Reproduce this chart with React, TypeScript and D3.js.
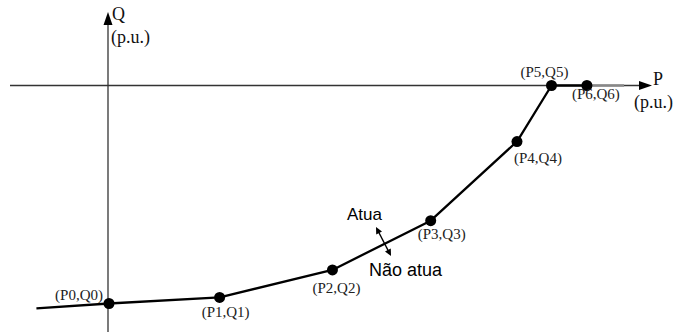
import React from "react";
import * as d3 from "d3";

// Operating points of the P–Q characteristic (per unit)
const pointNames = ["(P0,Q0)", "(P1,Q1)", "(P2,Q2)", "(P3,Q3)", "(P4,Q4)", "(P5,Q5)", "(P6,Q6)"];
const pValues = [0, 0.25, 0.505, 0.727, 0.922, 1.0, 1.08];
const qValues = [-1.0, -0.972, -0.846, -0.62, -0.257, 0, 0];

// Curve continues slightly beyond P0 on the left and beyond P6 on the right
const leadIn = { p: -0.164, q: -1.022 };
const tailOut = { p: 1.164, q: 0 };

// Label offsets relative to each point (dx, dy, anchor)
const labelOffsets: [number, number, string][] = [
  [-6, -4, "end"],
  [6, 20, "middle"],
  [4, 23, "middle"],
  [11, 18, "middle"],
  [21, 21, "middle"],
  [-7, -9, "middle"],
  [9, 13, "middle"],
];

const W = 676;
const H = 332;

export default function App() {
  const x = d3.scaleLinear().domain([0, 1]).range([109, 551.5]);
  const y = d3.scaleLinear().domain([-1, 0]).range([303.5, 85.5]);

  const pts = pValues.map((p, i) => ({ p, q: qValues[i], name: pointNames[i] }));
  const line = d3
    .line<{ p: number; q: number }>()
    .x((d) => x(d.p))
    .y((d) => y(d.q));

  const axisX0 = x(0) - 1;
  const axisY0 = y(0);

  const serif = "'Liberation Serif', 'Times New Roman', serif";
  const sans = "'Liberation Sans', Arial, sans-serif";

  // Double arrow between "Atua" and "Não atua"
  const a1 = { x: 376, y: 227 };
  const a2 = { x: 391, y: 256 };
  const ang = Math.atan2(a2.y - a1.y, a2.x - a1.x);
  const head = (tip: { x: number; y: number }, dir: number) => {
    const L = 7.5;
    const w = 0.45;
    const p1 = [tip.x - L * Math.cos(dir - w), tip.y - L * Math.sin(dir - w)];
    const p2 = [tip.x - L * Math.cos(dir + w), tip.y - L * Math.sin(dir + w)];
    return `M${tip.x},${tip.y}L${p1[0]},${p1[1]}L${p2[0]},${p2[1]}Z`;
  };

  return (
    <svg
      width={W}
      height={H}
      style={{ position: "absolute", left: 0, top: 0, background: "#fff" }}
    >
      {/* Axes */}
      <line x1={10} y1={axisY0} x2={641} y2={axisY0} stroke="#333" strokeWidth={1.3} />
      <path d={`M652,${axisY0}L639,${axisY0 - 4.5}L639,${axisY0 + 4.5}Z`} fill="#000" />
      <line x1={axisX0} y1={H} x2={axisX0} y2={24} stroke="#333" strokeWidth={1.3} />
      <path d={`M${axisX0},12L${axisX0 - 4.5},25L${axisX0 + 4.5},25Z`} fill="#000" />

      <text x={112} y={20} fontFamily={serif} fontSize={18} fill="#111">Q</text>
      <text x={111} y={43} fontFamily={serif} fontSize={18} fill="#111">(p.u.)</text>
      <text x={653} y={85} fontFamily={serif} fontSize={18} fill="#111">P</text>
      <text x={634} y={108} fontFamily={serif} fontSize={18} fill="#111">(p.u.)</text>

      {/* Grey continuation beyond the last point */}
      <path d={line([pts[6], tailOut]) || ""} stroke="#888" strokeWidth={2.4} fill="none" />

      {/* Characteristic curve */}
      <path
        d={line([leadIn, ...pts]) || ""}
        stroke="#000"
        strokeWidth={2.3}
        fill="none"
        strokeLinejoin="round"
      />

      {pts.map((d) => (
        <circle key={d.name} cx={x(d.p)} cy={y(d.q)} r={5.5} fill="#000" />
      ))}

      {pts.map((d, i) => {
        const [dx, dy, anchor] = labelOffsets[i];
        return (
          <text
            key={"l" + d.name}
            x={x(d.p) + dx}
            y={y(d.q) + dy}
            textAnchor={anchor as any}
            fontFamily={serif}
            fontSize={15}
            fill="#222"
          >
            {d.name}
          </text>
        );
      })}

      {/* Annotation */}
      <text x={347} y={220} fontFamily={sans} fontSize={17} fill="#000">Atua</text>
      <text x={369} y={276} fontFamily={sans} fontSize={18} fill="#000">Não atua</text>
      <line
        x1={a1.x + 3 * Math.cos(ang)}
        y1={a1.y + 3 * Math.sin(ang)}
        x2={a2.x - 3 * Math.cos(ang)}
        y2={a2.y - 3 * Math.sin(ang)}
        stroke="#000"
        strokeWidth={1.3}
      />
      <path d={head(a2, ang)} fill="#000" />
      <path d={head(a1, ang + Math.PI)} fill="#000" />
    </svg>
  );
}
